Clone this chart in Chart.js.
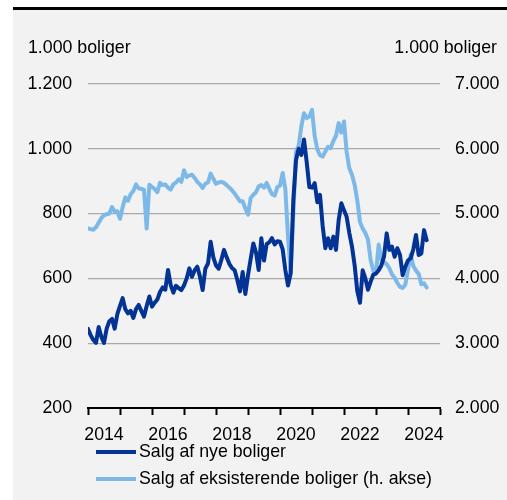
<!DOCTYPE html>
<html>
<head>
<meta charset="utf-8">
<script src="https://cdn.jsdelivr.net/npm/chart.js@4/dist/chart.umd.min.js"></script>
<style>
  html, body { margin: 0; padding: 0; background: #ffffff; }
  #wrap { position: relative; width: 507px; height: 500px; overflow: hidden; font-family: "Liberation Sans", Arial, sans-serif; color: #000; }
  #panel { position: absolute; left: 13px; top: 7px; width: 494px; height: 490px; background: #f2f2f2; border-top: 3px solid #000; }
  #chart { position: absolute; left: 0; top: 0; }
  .unit { position: absolute; top: 37px; font-size: 17.75px; line-height: 21px; white-space: nowrap; }
  #unitLeft { left: 28px; }
  #unitRight { right: 10px; }
  .leg { position: absolute; left: 96px; height: 21px; font-size: 17.75px; line-height: 21px; white-space: nowrap; }
  .leg i { position: absolute; left: 0; top: 9px; width: 40px; height: 4px; }
  .leg span { position: absolute; left: 43px; top: 0; }
</style>
</head>
<body>
<div id="wrap">
  <div id="panel"></div>
  <canvas id="chart" width="507" height="500"></canvas>
  <div class="unit" id="unitLeft">1.000 boliger</div>
  <div class="unit" id="unitRight">1.000 boliger</div>
  <div class="leg" id="leg0" style="top:441px"><i></i><span></span></div>
  <div class="leg" id="leg1" style="top:468px"><i></i><span></span></div>
</div>
<script>
// Monthly series, January 2014 to August 2024 (1.000 boliger)
const firstYear = 2014;
const newHomeSales = [
  444, 425, 410, 401, 450, 420, 401, 445, 468, 475, 445, 490,
  515, 539, 505, 492, 500, 478, 505, 518, 500, 482, 515, 544,
  513, 525, 535, 558, 572, 565, 626, 580, 556, 577, 570, 564,
  578, 600, 631, 605, 625, 636, 605, 564, 630, 646, 713, 665,
  640, 630, 657, 688, 665, 645, 632, 625, 595, 560, 620, 552,
  610, 660, 708, 680, 626, 724, 655, 706, 712, 724, 705, 715,
  713, 690, 626, 578, 616, 842, 965, 1000, 981, 1029, 960, 882,
  880, 894, 835, 858, 762, 693, 724, 693, 729, 688, 780, 832,
  810, 790, 740, 698, 640, 560, 525, 625, 600, 565, 590, 612,
  615, 625, 640, 667, 739, 688, 698, 667, 693, 672, 610, 636,
  655, 662, 690, 734, 672, 677, 749, 718
];
const existingHomeSales = [
  4770, 4760, 4750, 4790, 4860, 4930, 4975, 4990, 5000, 5100, 5030, 5035,
  4920, 5100, 5250, 5200, 5300, 5350, 5450, 5390, 5380, 5370, 4770, 5447,
  5410, 5380, 5330, 5474, 5440, 5450, 5400, 5370, 5450, 5480, 5530, 5490,
  5670, 5566, 5590, 5600, 5550, 5490, 5450, 5396, 5460, 5480, 5617, 5540,
  5460, 5480, 5490, 5474, 5440, 5400, 5360, 5310, 5250, 5190, 5190, 5080,
  4985, 5240, 5290, 5330, 5420, 5440, 5400, 5474, 5380, 5300, 5278, 5410,
  5430, 5628, 5380, 4650, 4088, 5000, 5950, 6050, 6344, 6550, 6473, 6500,
  6600, 6200, 5990, 5900, 5880, 5960, 6030, 6010, 6120, 6200, 6396, 6250,
  6421, 5950, 5700, 5600, 5440, 5200, 4870, 4770, 4700, 4600, 4280, 4120,
  4085, 4522, 4290, 4250, 4220, 4160, 4060, 4010, 3930, 3870, 3853, 3905,
  4136, 4367, 4190, 4120, 4070, 3910, 3925, 3860
];
const seriesNames = ['Salg af nye boliger', 'Salg af eksisterende boliger (h. akse)'];
const seriesColors = ['#033395', '#7db9e8'];
const yearLabels = ['2014', '2016', '2018', '2020', '2022', '2024'];

const FONT = { family: '"Liberation Sans", Arial, sans-serif', size: 17.75 };
const fmt = v => Math.round(v).toString().replace(/\B(?=(\d{3})+(?!\d))/g, '.');
const toPoints = arr => arr.map((v, i) => ({ x: i, y: v }));

seriesNames.forEach((name, k) => {
  const el = document.getElementById('leg' + k);
  el.querySelector('i').style.background = seriesColors[k];
  el.querySelector('span').textContent = name;
});

new Chart(document.getElementById('chart'), {
  type: 'line',
  data: {
    datasets: [
      { label: seriesNames[0], data: toPoints(newHomeSales), yAxisID: 'yL',
        borderColor: seriesColors[0], borderWidth: 4, pointRadius: 0, tension: 0,
        borderJoinStyle: 'round', borderCapStyle: 'round' },
      { label: seriesNames[1], data: toPoints(existingHomeSales), yAxisID: 'yR',
        borderColor: seriesColors[1], borderWidth: 4, pointRadius: 0, tension: 0,
        borderJoinStyle: 'round', borderCapStyle: 'round' }
    ]
  },
  options: {
    responsive: false,
    devicePixelRatio: 1,
    animation: false,
    layout: { padding: { top: 84, left: 0, right: 0, bottom: 0 } },
    plugins: { legend: { display: false }, tooltip: { enabled: false } },
    scales: {
      x: {
        type: 'linear', position: 'bottom', min: 0, max: 132,
        afterBuildTicks: s => { s.ticks = []; for (let v = 0; v <= 132; v += 6) s.ticks.push({ value: v }); },
        afterFit: s => { s.height = 92; },
        ticks: {
          autoSkip: false, maxRotation: 0, minRotation: 0, padding: 9, color: '#000', font: FONT,
          callback: v => ((v - 6) % 24 === 0 ? yearLabels[(v - 6) / 24] : '')
        },
        grid: {
          drawOnChartArea: false, drawTicks: true, tickLength: 7, tickWidth: 2,
          tickColor: c => (c.tick && c.tick.value % 12 === 0 ? '#000' : 'rgba(0,0,0,0)')
        },
        border: { display: true, color: '#000', width: 2 }
      },
      yL: {
        type: 'linear', position: 'left', min: 200, max: 1200,
        afterBuildTicks: s => { s.ticks = [200, 400, 600, 800, 1000, 1200].map(v => ({ value: v })); },
        afterFit: s => { s.width = 88; },
        ticks: { padding: 16, color: '#000', font: FONT, callback: v => fmt(v) },
        grid: { drawTicks: false, lineWidth: 1.3,
          color: c => (c.tick && c.tick.value === 200 ? 'rgba(0,0,0,0)' : '#a9a9a9') },
        border: { display: false }
      },
      yR: {
        type: 'linear', position: 'right', min: 2000, max: 7000,
        afterBuildTicks: s => { s.ticks = [2000, 3000, 4000, 5000, 6000, 7000].map(v => ({ value: v })); },
        afterFit: s => { s.width = 67; },
        ticks: { padding: 15, color: '#000', font: FONT, callback: v => fmt(v) },
        grid: { drawOnChartArea: false, drawTicks: false },
        border: { display: false }
      }
    }
  }
});
</script>
</body>
</html>
